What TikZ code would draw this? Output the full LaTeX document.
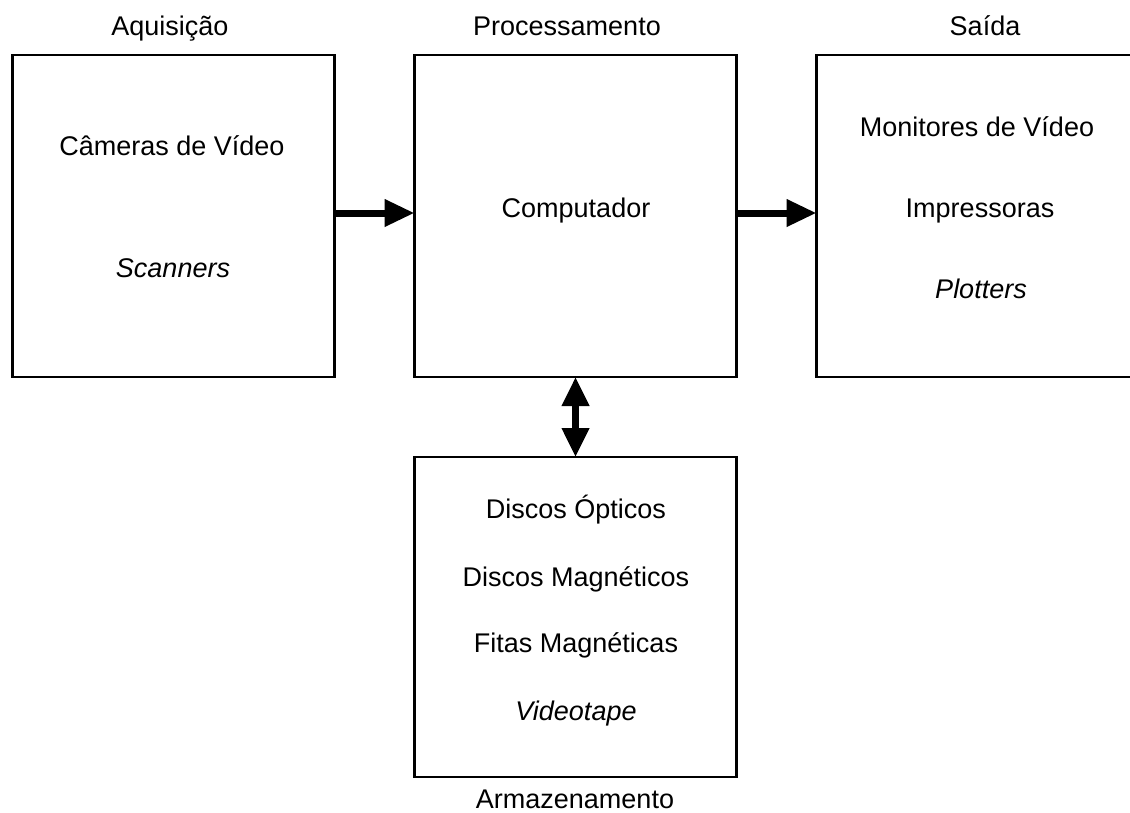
\documentclass[tikz,border=0pt]{standalone}
\usepackage{fontspec}
\setmainfont{Liberation Sans}
\usetikzlibrary{arrows.meta,positioning}
\newcommand{\boxsize}{322pt}
\tikzset{
    boxsty/.style={draw,line width=2.5pt,rectangle,minimum size=\boxsize,inner sep=0pt,outer sep=0pt},
    lblsty/.style={text height=1.6em,text depth=0pt,inner sep=0pt},
    ttlsty/.style={lblsty},
    arrsty/.style={line width=7pt,-{Triangle[length=30pt,width=26pt]}},
    dblsty/.style={line width=7pt,{Triangle[length=29pt,width=26pt]}-{Triangle[length=29pt,width=26pt]}},
}

\begin{document}
\begin{tikzpicture}[x=1pt,y=-1pt,font=\fontsize{27}{32}\selectfont]
\clip (0,0) rectangle (1130,812);

% the four stages
\node[boxsty] (aquis) at (173.5,216) {};
\node[boxsty, right=80pt of aquis] (proc) {};
\node[boxsty, right=80pt of proc] (saida) {};
\node[boxsty, minimum height=320pt, below=80pt of proc] (armaz) {};

% titles
\node[ttlsty] (taquis) at (170,27) {Aquisição};
\node[ttlsty] (tproc) at (567,27) {Processamento};
\node[ttlsty] (tsaida) at (985,27) {Saída};
\node[ttlsty] (tarmaz) at (575,800) {Armazenamento};

% contents
\node[lblsty] (cam) at (172,147) {Câmeras de Vídeo};
\node[lblsty] (scan) at (173,269) {\textit{Scanners}};

\node[lblsty] (comp) at (576,209) {Computador};

\node[lblsty] (mon) at (977,128) {Monitores de Vídeo};
\node[lblsty] (imp) at (980,209) {Impressoras};
\node[lblsty] (plot) at (981,290) {\textit{Plotters}};

\node[lblsty] (dopt) at (576,510) {Discos Ópticos};
\node[lblsty] (dmag) at (576,578) {Discos Magnéticos};
\node[lblsty] (fmag) at (576,644) {Fitas Magnéticas};
\node[lblsty] (vtape) at (576,712) {\textit{Videotape}};

% data flow
\draw[arrsty] ([yshift=3pt]aquis.east) -- ([yshift=3pt]proc.west);
\draw[arrsty] ([yshift=3pt]proc.east) -- ([yshift=3pt]saida.west);
\draw[dblsty] (proc.south) -- (armaz.north);

\end{tikzpicture}
\end{document}
